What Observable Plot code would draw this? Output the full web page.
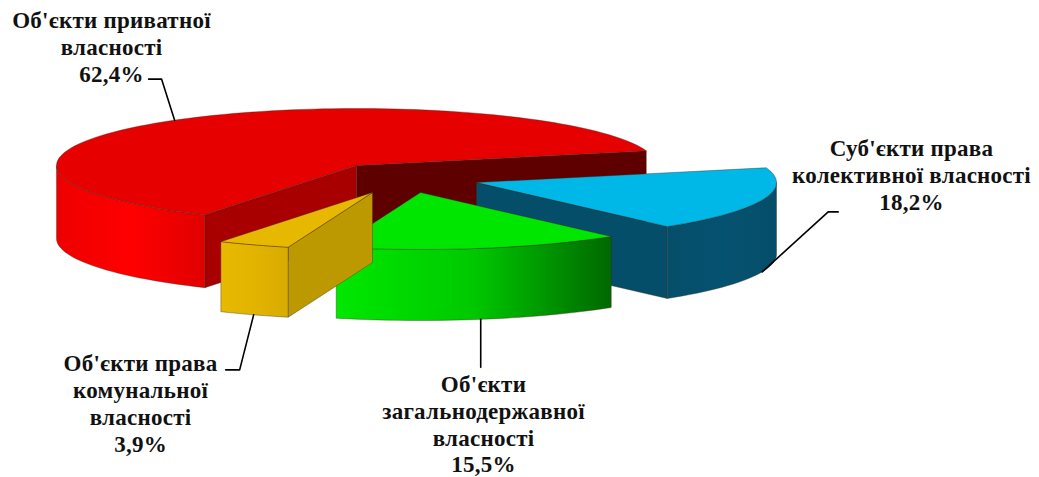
<!DOCTYPE html>
<html>
<head>
<meta charset="utf-8">
<script src="https://cdn.jsdelivr.net/npm/d3@7"></script>
<script src="https://cdn.jsdelivr.net/npm/@observablehq/plot@0.6"></script>
<style>
html,body{margin:0;padding:0;background:#fff;}
svg{display:block;}
</style>
</head>
<body>
<div id="chart"></div>
<script>
// Data
const categories = [
  "Суб'єкти права\nколективної власності",
  "Об'єкти\nзагальнодержавної\nвласності",
  "Об'єкти права\nкомунальної\nвласності",
  "Об'єкти приватної\nвласності"
];
const shares = [18.2, 15.5, 3.9, 62.4];
const shareLabels = ["18,2%", "15,5%", "3,9%", "62,4%"];

// Layout (pie geometry in picture units)
const W = 1039, H = 477;
const startAngle = 75;           // degrees clockwise from the top
const rx = 300, ry = 57;
const center = {x: 356, y: 165};
const explode = [[120, 17], [64, 27], [16, 27], [0, 0]];
const depths = [72, 71, 70, 73];
const topFill = ["#00b8e8", "#00e600", "#e6b800", "#e60000"];
const elbows = [
  [[66, -60], [76, -60]],
  [[0, 48]],
  [[-14, 55], [-28, 55]],
  [[-13, -41], [-26, -41]]
];
const labelAt = [[911, 173.5], [483, 423], [140, 402.5], [111, 45.5]];
const gradients = {
  gBlue: ["#054e6a", "#055270", "#054e6a"],
  gGreen: ["#00e800", "#00c800", "#006800"],
  gYellow: ["#e8b900", "#e2b400", "#d8ab00"],
  gRed: ["#ee0000", "#ff0000", "#e00000"]
};
const sideFill = ["url(#gBlue)", "url(#gGreen)", "url(#gYellow)", "url(#gRed)"];
const cutFill = {blue: "#054e6a", yellow: "#bd9900", redA: "#a80000", redB: "#5f0000"};

// Slice angles derived from the shares
let acc = startAngle;
const slices = shares.map((v, i) => {
  const a0 = acc;
  const a1 = acc + v * 3.6;
  acc = a1;
  return {i, a0, a1, mid: (a0 + a1) / 2, c: {x: center.x + explode[i][0], y: center.y + explode[i][1]}, d: depths[i]};
});
const rim = (s, a, dz = 0) => {
  const t = a * Math.PI / 180;
  return {x: s.c.x + rx * Math.sin(t), y: s.c.y - ry * Math.cos(t) + dz};
};
const arc = (s, a0, a1, dz = 0) => {
  const n = Math.max(2, Math.ceil(Math.abs(a1 - a0) / 2));
  return d3.range(n + 1).map(k => rim(s, a0 + (a1 - a0) * k / n, dz));
};
const shift = (p, dz) => ({x: p.x, y: p.y + dz});
const topFace = s => [s.c, ...arc(s, s.a0, s.a1), s.c];
const outerSide = (s, a0, a1) => [...arc(s, a0, a1), ...arc(s, a1, a0, s.d), rim(s, a0)];
const cutFace = (s, a) => [s.c, rim(s, a), rim(s, a, s.d), shift(s.c, s.d), s.c];

const edge = "#3a2a1a";
const face = (pts, fill) => Plot.line(pts, {
  x: "x", y: "y", fill, stroke: edge, strokeWidth: 0.7, strokeOpacity: 0.55, curve: "linear"
});

const [blue, green, yellow, red] = slices;
const faceMarks = [
  face(cutFace(red, red.a1), cutFill.redB),
  face(cutFace(red, red.a0), cutFill.redA),
  face(outerSide(red, red.a0, 270), sideFill[3]),
  face(topFace(red), topFill[3]),
  face(cutFace(blue, blue.a1), cutFill.blue),
  face(outerSide(blue, 90, blue.a1), sideFill[0]),
  face(topFace(blue), topFill[0]),
  face(outerSide(green, green.a0, green.a1), sideFill[1]),
  face(topFace(green), topFill[1]),
  face(cutFace(yellow, yellow.a0), cutFill.yellow),
  face(outerSide(yellow, yellow.a0, yellow.a1), sideFill[2]),
  face(topFace(yellow), topFill[2])
];

// Leaders start at each slice's mid-angle on its rim
const leaders = slices.map((s, i) => {
  const start = i === 3 ? rim(s, s.mid) : rim(s, s.mid, s.d);
  return [start, ...elbows[i].map(([dx, dy]) => ({x: start.x + dx, y: start.y + dy}))];
});

const labels = categories.map((c, i) => ({
  text: c + "\n" + shareLabels[i],
  x: labelAt[i][0],
  y: labelAt[i][1]
}));

const defs = () => {
  const d = d3.create("svg:defs");
  for (const [id, stops] of Object.entries(gradients)) {
    const g = d.append("linearGradient").attr("id", id);
    stops.forEach((c, k) => g.append("stop").attr("offset", k / (stops.length - 1)).attr("stop-color", c));
  }
  return d.node();
};

const chart = Plot.plot({
  width: W,
  height: H,
  margin: 0,
  x: {domain: [0, W], range: [0, W], axis: null},
  y: {domain: [0, H], range: [0, H], axis: null},
  style: {background: "#fff", letterSpacing: "0.25px"},
  marks: [
    defs,
    ...faceMarks,
    ...leaders.map(l => Plot.line(l, {x: "x", y: "y", stroke: "#000", strokeWidth: 1.6, curve: "linear"})),
    Plot.text(labels, {
      x: "x", y: "y", text: "text",
      fontFamily: "Liberation Serif",
      fontWeight: "bold",
      fontSize: 23,
      lineHeight: 1.17,
      textAnchor: "middle",
      lineAnchor: "middle",
      fill: "#111"
    })
  ]
});
document.getElementById("chart").append(chart);
</script>
</body>
</html>
